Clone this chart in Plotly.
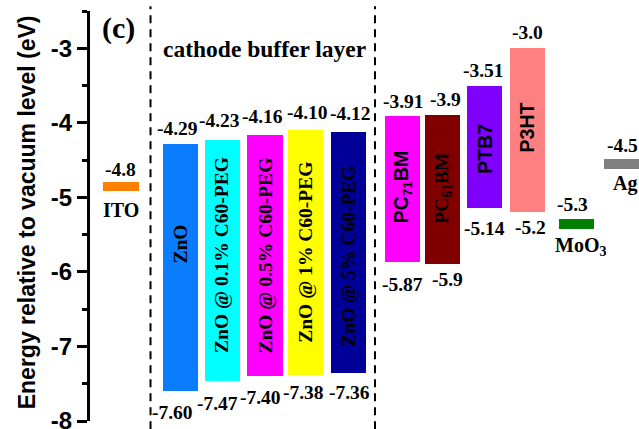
import plotly.graph_objects as go

# ---------------- data ----------------
names = ["ITO", "ZnO", "ZnO @ 0.1% C60-PEG", "ZnO @ 0.5% C60-PEG", "ZnO @ 1% C60-PEG",
         "ZnO @ 5% C60-PEG", "PC<sub>71</sub>BM", "PC<sub>61</sub>BM", "PTB7", "P3HT",
         "MoO<sub>3</sub>", "Ag"]
is_electrode = [True, False, False, False, False, False, False, False, False, False, True, True]
top_level = [-4.8, -4.29, -4.23, -4.16, -4.10, -4.12, -3.91, -3.9, -3.51, -3.0, -5.3, -4.5]
bottom_level = [None, -7.60, -7.47, -7.40, -7.38, -7.36, -5.87, -5.9, -5.14, -5.2, None, None]
top_text = ["-4.8", "-4.29", "-4.23", "-4.16", "-4.10", "-4.12", "-3.91", "-3.9", "-3.51", "-3.0", "-5.3", "-4.5"]
bottom_text = ["", "-7.60", "-7.47", "-7.40", "-7.38", "-7.36", "-5.87", "-5.9", "-5.14", "-5.2", "", ""]
y_tick_vals = [-8, -7, -6, -5, -4, -3]
y_tick_text = ["-8", "-7", "-6", "-5", "-4", "-3"]

# ---------------- style / layout ----------------
colors = ["#FF7F00", "#0A7DFF", "#00FFFF", "#FF00FF", "#FFFF00", "#000099",
          "#FF00FF", "#800000", "#8000FF", "#FF8080", "#008000", "#808080"]
SERIF = "Liberation Serif, Times New Roman, serif"
SANS = "Liberation Sans, Arial, sans-serif"
name_font = [SERIF, SERIF, SERIF, SERIF, SERIF, SERIF, SANS, SERIF, SANS, SANS, SERIF, SERIF]
# slot positions along the (hidden) x axis
x_pos = [0.729, 2.136, 3.111, 4.118, 5.064, 6.075, 7.346, 8.301, 9.287, 10.287, 11.442, 12.518]
X_MAX = 12.918
divider_pos = [1.424, 6.706]
bar_w = 0.825
electrode_thick = 0.13
# label offsets in px
top_dx = [0, -3, -3, -3, 2, 2, 1, 3, -1, 0, -4, 0]
top_dy = [13, 16, 19, 18, 18, 18, 15, 16, 16, 16, 15, 15]
bot_dx = [0, -8, -5, -5, -2, 1, 0, 5, 0, 3, 4, 3]
bot_dy = [19, 21, 22, 21, 18, 19, 22, 15, 21, 15, 18, 14]
inner_dy = [0, 24, 6, 0, 0, -4, 2, 2, -2, 3, 0, 0]

W, H = 639, 429
PLOT_L, PLOT_T, PLOT_W, PLOT_H = 90, 10.7, 549, 410

fig = go.Figure()

bases, heights = [], []
for i in range(len(names)):
    if is_electrode[i]:
        b = top_level[i] + 0.01 - electrode_thick
        h = electrode_thick
    else:
        b = bottom_level[i]
        h = top_level[i] - bottom_level[i]
    bases.append(b)
    heights.append(h)

fig.add_trace(go.Bar(x=x_pos, y=heights, base=bases, width=bar_w,
                     marker=dict(color=colors, line=dict(width=0)),
                     hoverinfo="skip", showlegend=False))

ann = []
VAL_SIZE = 19.5
for i in range(len(names)):
    ann.append(dict(x=x_pos[i], y=top_level[i], xref="x", yref="y", text=top_text[i],
                    showarrow=False, xshift=top_dx[i], yshift=top_dy[i],
                    xanchor="center", yanchor="middle",
                    font=dict(family=SERIF, size=VAL_SIZE, color="black", weight="bold")))
    if is_electrode[i]:
        ann.append(dict(x=x_pos[i], y=top_level[i] + 0.01 - electrode_thick, xref="x", yref="y",
                        text=names[i], showarrow=False, xshift=bot_dx[i], yshift=-bot_dy[i],
                        xanchor="center", yanchor="middle",
                        font=dict(family=SERIF, size=20, color="black", weight="bold")))
    else:
        ann.append(dict(x=x_pos[i], y=bottom_level[i], xref="x", yref="y", text=bottom_text[i],
                        showarrow=False, xshift=bot_dx[i], yshift=-bot_dy[i],
                        xanchor="center", yanchor="middle",
                        font=dict(family=SERIF, size=VAL_SIZE, color="black", weight="bold")))
        ann.append(dict(x=x_pos[i], y=(top_level[i] + bottom_level[i]) / 2, xref="x", yref="y",
                        text=names[i], showarrow=False, textangle=-90, yshift=inner_dy[i],
                        xanchor="center", yanchor="middle",
                        font=dict(family=name_font[i], size=19.5, color="black", weight="bold")))

def px_to_paper(sx, sy):
    return (sx - PLOT_L) / PLOT_W, 1 - (sy - PLOT_T) / PLOT_H

cx, cy = px_to_paper(118, 28)
ann.append(dict(x=cx, y=cy, xref="paper", yref="paper", text="(c)", showarrow=False,
                xanchor="center", yanchor="middle",
                font=dict(family=SERIF, size=30, color="black", weight="bold")))
cx, cy = px_to_paper(264.2, 49)
ann.append(dict(x=cx, y=cy, xref="paper", yref="paper", text="cathode buffer layer",
                showarrow=False, xanchor="center", yanchor="middle",
                font=dict(family=SERIF, size=23.5, color="black", weight="bold")))
cx, cy = px_to_paper(27, 212)
ann.append(dict(x=cx, y=cy, xref="paper", yref="paper",
                text="Energy relative to vacuum level (eV)", showarrow=False, textangle=-90,
                xanchor="center", yanchor="middle",
                font=dict(family=SANS, size=23, color="black", weight="bold")))

shapes = []
for d in divider_pos:
    shapes.append(dict(type="line", xref="paper", yref="paper", x0=d / X_MAX, x1=d / X_MAX,
                       y0=-0.02, y1=1.0115, line=dict(color="black", width=2, dash="8px,6px")))

fig.update_layout(
    width=W, height=H,
    margin=dict(l=PLOT_L, r=W - PLOT_L - PLOT_W, t=PLOT_T, b=H - PLOT_T - PLOT_H, autoexpand=False),
    paper_bgcolor="white", plot_bgcolor="white",
    xaxis=dict(range=[0, X_MAX], visible=False),
    yaxis=dict(range=[-8, -2.5], tickvals=y_tick_vals, ticktext=y_tick_text,
               showgrid=False, zeroline=False, showline=True, linecolor="black", linewidth=3,
               ticks="outside", ticklen=10, tickwidth=2.5, tickcolor="black",
               ticklabeloverflow="allow",
               tickfont=dict(family=SANS, size=24, color="black", weight="bold"),
               minor=dict(dtick=0.5, tick0=-2.5, ticks="outside", ticklen=5, tickwidth=2.5,
                          tickcolor="black", showgrid=False)),
    annotations=ann, shapes=shapes, bargap=0,
)

fig.write_html("out.html", config={"displayModeBar": False},
               post_script="document.body.style.margin='0';document.body.style.overflow='hidden';")
